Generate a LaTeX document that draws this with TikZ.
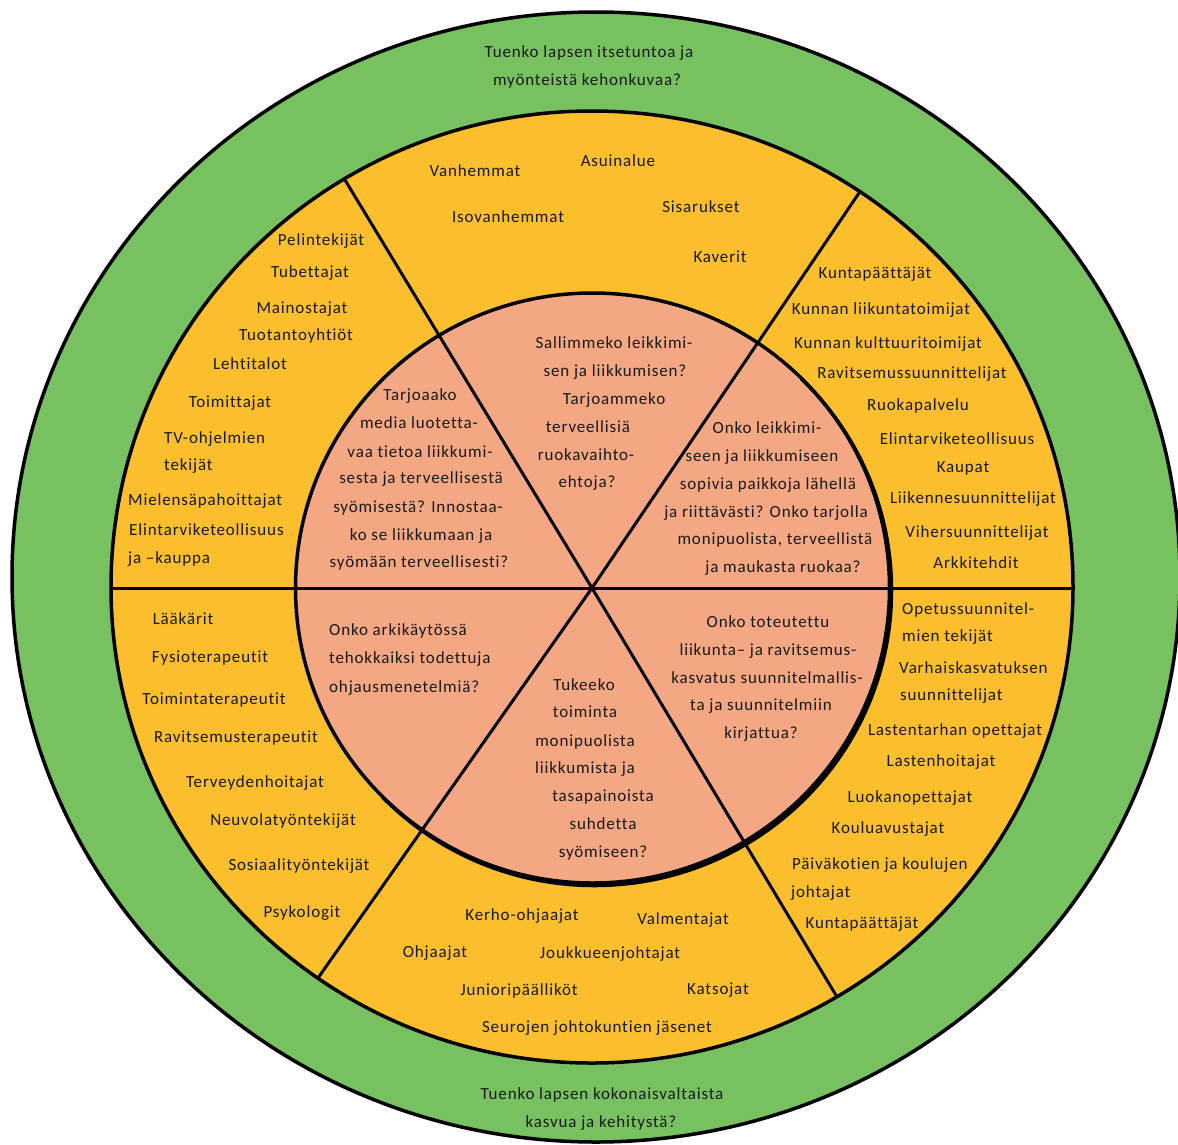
\documentclass[tikz,border=0pt]{standalone}
\usepackage{fontspec}
\setmainfont{Carlito}[LetterSpace=5,Ligatures={NoCommon}]
\definecolor{grn}{RGB}{120,193,96}
\definecolor{org}{RGB}{251,191,46}
\definecolor{sal}{RGB}{243,168,131}
\definecolor{ink}{RGB}{25,25,25}
\begin{document}
\begin{tikzpicture}[x=1pt,y=-1pt,
  lbl/.style={inner sep=0pt, text=ink, font=\fontsize{17}{20}\selectfont, anchor=mid, yshift=-3.5pt},
  lbll/.style={lbl, anchor=mid west},
  ring/.style={draw=black, line width=3.5pt},
  spoke/.style={draw=black, line width=3pt}]
\useasboundingbox (0,0) rectangle (1178,1144);
\fill[white] (0,0) rectangle (1178,1144);
% coordinates
\coordinate (c) at (592,588);
\coordinate (ul) at (345,180);
\coordinate (ur) at (859,193);
\coordinate (ll) at (318,978);
\coordinate (lr) at (837,997);
\coordinate (hl) at (110,588);
\coordinate (hr) at (1074,588);
% green ring
\begin{scope}
\clip (0,0) rectangle (1178,1144);
\filldraw[fill=grn, ring] (596,577) ellipse [x radius=584pt, y radius=565pt];
\end{scope}
% orange disc
\fill[org] (592,587) ellipse [x radius=481pt, y radius=476pt];
% salmon disc
\fill[sal] (592.5,588) ellipse [x radius=297pt, y radius=295pt];
% spokes
\draw[spoke] (hl) -- (hr);
\draw[spoke] (ul) -- (c) -- (lr);
\draw[spoke] (ur) -- (c) -- (ll);
% borders
\draw[ring] (592.5,588) ellipse [x radius=297pt, y radius=295pt];
\begin{scope}
\clip (250,930) -- (935,245) -- (1100,1100) -- cycle;
\draw[ring] (594.5,590.5) ellipse [x radius=297pt, y radius=295pt];
\end{scope}
\draw[ring] (592,587) ellipse [x radius=481pt, y radius=476pt];

% green texts
\node[lbl] (g1) at (589,52) {Tuenko lapsen itsetuntoa ja};
\node[lbl] (g2) at (587,80) {myönteistä kehonkuvaa?};
\node[lbl] (g3) at (602,1094) {Tuenko lapsen kokonaisvaltaista};
\node[lbl] (g4) at (601,1122) {kasvua ja kehitystä?};

% top orange sector
\node[lbl] (a1) at (475,171) {Vanhemmat};
\node[lbl] (a2) at (618,161) {Asuinalue};
\node[lbl] (a3) at (508,217) {Isovanhemmat};
\node[lbl] (a4) at (701,207) {Sisarukset};
\node[lbl] (a5) at (720,257) {Kaverit};

% upper-left orange sector
\node[lbl] (b1) at (321,240) {Pelintekijät};
\node[lbl] (b2) at (310,272) {Tubettajat};
\node[lbl] (b3) at (302,308) {Mainostajat};
\node[lbl] (b4) at (296,335) {Tuotantoyhtiöt};
\node[lbl] (b5) at (250,364) {Lehtitalot};
\node[lbl] (b6) at (230,402) {Toimittajat};
\node[lbll] (b7) at (164,438) {TV-ohjelmien};
\node[lbll] (b8) at (164,465) {tekijät};
\node[lbll] (b9) at (128,500) {Mielensäpahoittajat};
\node[lbll] (b10) at (129,530) {Elintarviketeollisuus};
\node[lbll] (b11) at (128,558) {ja –kauppa};

% upper-right orange sector
\node[lbl] (c1) at (875,273) {Kuntapäättäjät};
\node[lbl] (c2) at (881,309) {Kunnan liikuntatoimijat};
\node[lbl] (c3) at (888,343) {Kunnan kulttuuritoimijat};
\node[lbl] (c4) at (912,373) {Ravitsemussuunnittelijat};
\node[lbl] (c5) at (918,405) {Ruokapalvelu};
\node[lbl] (c6) at (957,439) {Elintarviketeollisuus};
\node[lbl] (c7) at (963,467) {Kaupat};
\node[lbl] (c8) at (973,498) {Liikennesuunnittelijat};
\node[lbl] (c9) at (977,532) {Vihersuunnittelijat};
\node[lbl] (c10) at (976,563) {Arkkitehdit};

% lower-left orange sector
\node[lbl] (d1) at (183,619) {Lääkärit};
\node[lbl] (d2) at (210,657) {Fysioterapeutit};
\node[lbl] (d3) at (214,699) {Toimintaterapeutit};
\node[lbl] (d4) at (236,737) {Ravitsemusterapeutit};
\node[lbl] (d5) at (255,782) {Terveydenhoitajat};
\node[lbl] (d6) at (283,820) {Neuvolatyöntekijät};
\node[lbl] (d7) at (299,865) {Sosiaalityöntekijät};
\node[lbl] (d8) at (302,912) {Psykologit};

% bottom orange sector
\node[lbl] (e1) at (522,915) {Kerho-ohjaajat};
\node[lbl] (e2) at (683,919) {Valmentajat};
\node[lbl] (e3) at (435,952) {Ohjaajat};
\node[lbl] (e4) at (610,953) {Joukkueenjohtajat};
\node[lbl] (e5) at (519,990) {Junioripäälliköt};
\node[lbl] (e6) at (718,989) {Katsojat};
\node[lbl] (e7) at (597,1027) {Seurojen johtokuntien jäsenet};

% lower-right orange sector
\node[lbll] (f1) at (902,609) {Opetussuunnitel-};
\node[lbll] (f2) at (902,636) {mien tekijät};
\node[lbll] (f3) at (899,668) {Varhaiskasvatuksen};
\node[lbll] (f4) at (900,695) {suunnittelijat};
\node[lbl] (f5) at (955,730) {Lastentarhan opettajat};
\node[lbl] (f6) at (941,761) {Lastenhoitajat};
\node[lbl] (f7) at (910,797) {Luokanopettajat};
\node[lbl] (f8) at (888,828) {Kouluavustajat};
\node[lbll] (f9) at (792,864) {Päiväkotien ja koulujen};
\node[lbll] (f10) at (791,892) {johtajat};
\node[lbl] (f11) at (862,923) {Kuntapäättäjät};

% inner: upper-left
\node[lbl] (p1) at (420,395) {Tarjoaako};
\node[lbl] (p2) at (419,423) {media luotetta-};
\node[lbl] (p3) at (420,452) {vaa tietoa liikkumi-};
\node[lbl] (p4) at (421,478) {sesta ja terveellisestä};
\node[lbl] (p5) at (418,507) {syömisestä? Innostaa-};
\node[lbl] (p6) at (421,535) {ko se liikkumaan ja};
\node[lbl] (p7) at (419,562) {syömään terveellisesti?};

% inner: top
\node[lbl] (q1) at (614,343) {Sallimmeko leikkimi-};
\node[lbl] (q2) at (615,371) {sen ja liikkumisen?};
\node[lbl] (q3) at (614,399) {Tarjoammeko};
\node[lbl] (q4) at (588,427) {terveellisiä};
\node[lbl] (q5) at (586,455) {ruokavaihto-};
\node[lbl] (q6) at (587,482) {ehtoja?};

% inner: upper-right
\node[lbl] (r1) at (767,428) {Onko leikkimi-};
\node[lbl] (r2) at (762,456) {seen ja liikkumiseen};
\node[lbl] (r3) at (768,484) {sopivia paikkoja lähellä};
\node[lbl] (r4) at (766,512) {ja riittävästi? Onko tarjolla};
\node[lbl] (r5) at (775,539) {monipuolista, terveellistä};
\node[lbl] (r6) at (783,567) {ja maukasta ruokaa?};

% inner: lower-right
\node[lbl] (s1) at (768,622) {Onko toteutettu};
\node[lbl] (s2) at (768,650) {liikunta– ja ravitsemus-};
\node[lbl] (s3) at (767,678) {kasvatus suunnitelmallis-};
\node[lbl] (s4) at (761,705) {ta ja suunnitelmiin};
\node[lbl] (s5) at (761,733) {kirjattua?};

% inner: lower-left
\node[lbll] (u1) at (329,630) {Onko arkikäytössä};
\node[lbll] (u2) at (329,658) {tehokkaiksi todettuja};
\node[lbll] (u3) at (329,687) {ohjausmenetelmiä?};

% inner: bottom
\node[lbl] (v1) at (584,685) {Tukeeko};
\node[lbl] (v2) at (585,712) {toiminta};
\node[lbl] (v3) at (585,741) {monipuolista};
\node[lbl] (v4) at (585,768) {liikkumista ja};
\node[lbl] (v5) at (603,796) {tasapainoista};
\node[lbl] (v6) at (603,824) {suhdetta};
\node[lbl] (v7) at (603,852) {syömiseen?};
\end{tikzpicture}
\end{document}
